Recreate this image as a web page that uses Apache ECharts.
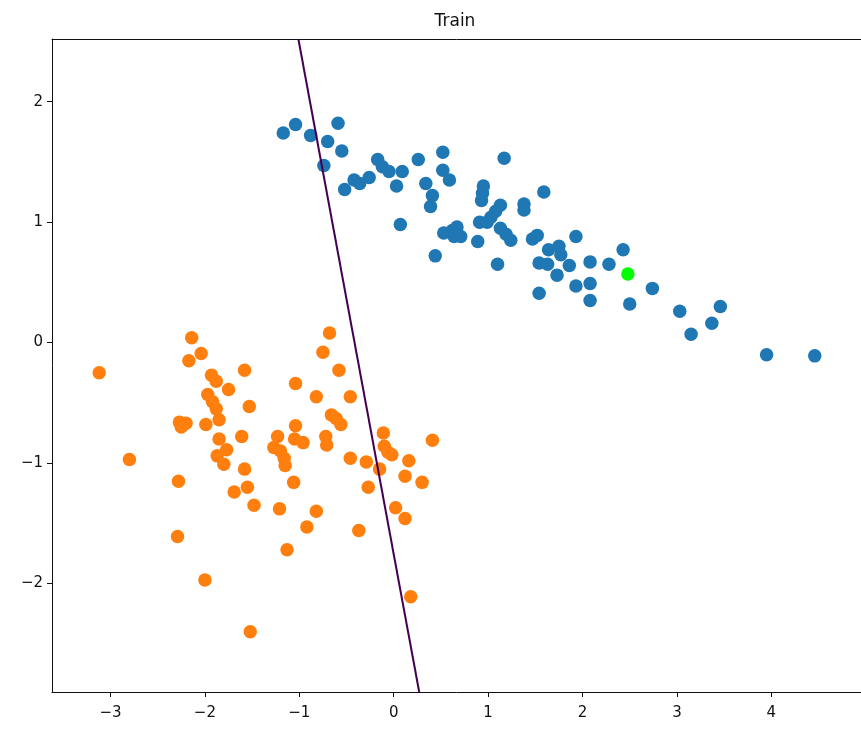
<!DOCTYPE html>
<html>
<head>
<meta charset="utf-8">
<title>Train</title>
<script src="https://cdn.jsdelivr.net/npm/echarts@6/dist/echarts.min.js"></script>
<style>
  html, body { margin: 0; padding: 0; background: #ffffff; }
  #chart { width: 861px; height: 729px; }
</style>
</head>
<body>
<div id="chart"></div>
<script>
// Class 0 samples
const blueX = [-1.17,-1.04,-0.88,-0.70,-0.59,-0.55,-0.74,-0.52,-0.42,-0.36,
  -0.26,-0.17,-0.12,-0.05,0.09,0.03,0.26,0.52,0.52,0.59,
  0.34,0.41,0.39,0.07,0.44,0.53,0.62,0.67,0.71,0.64,
  1.17,0.95,0.94,0.93,1.59,1.38,1.38,1.13,1.08,1.03,
  0.91,0.99,0.89,1.13,1.19,1.24,1.47,1.52,1.93,1.64,
  1.75,1.77,1.54,1.63,1.86,1.73,1.10,2.08,2.28,2.43,
  1.93,2.08,1.54,2.08,2.50,2.74,3.03,3.46,3.37,3.15,3.95,4.46];
const blueY = [1.74,1.81,1.72,1.67,1.82,1.59,1.47,1.27,1.35,1.32,
  1.37,1.52,1.46,1.42,1.42,1.30,1.52,1.58,1.43,1.35,
  1.32,1.22,1.13,0.98,0.72,0.91,0.93,0.96,0.88,0.88,
  1.53,1.30,1.24,1.18,1.25,1.15,1.10,1.14,1.09,1.04,
  1.00,1.00,0.84,0.95,0.90,0.85,0.86,0.89,0.88,0.77,
  0.80,0.73,0.66,0.65,0.64,0.56,0.65,0.67,0.65,0.77,
  0.47,0.49,0.41,0.35,0.32,0.45,0.26,0.30,0.16,0.07,-0.10,-0.11];

// Class 1 samples
const orangeX = [-3.12,-2.14,-2.04,-2.17,-1.93,-1.88,-1.58,-1.75,-1.97,-1.92,
  -1.88,-1.85,-1.53,-2.27,-2.20,-2.25,-1.99,-1.85,-1.77,-1.87,
  -1.80,-1.61,-1.58,-2.80,-2.28,-1.69,-1.55,-1.48,-1.23,-1.27,
  -1.20,-1.16,-1.15,-2.29,-2.00,-1.52,-1.04,-0.68,-0.75,-0.58,
  -0.82,-0.46,-0.66,-0.61,-0.56,-1.04,-1.05,-0.96,-0.72,-0.71,
  -0.11,-0.10,-0.06,-0.02,-0.15,-0.29,-0.46,0.16,0.41,0.12,
  0.30,-1.06,-0.27,-1.21,-0.82,-0.92,-0.37,-1.13,0.02,0.12,0.18];
const orangeY = [-0.25,0.04,-0.09,-0.15,-0.27,-0.32,-0.23,-0.39,-0.43,-0.49,
  -0.55,-0.64,-0.53,-0.66,-0.67,-0.70,-0.68,-0.80,-0.89,-0.94,
  -1.01,-0.78,-1.05,-0.97,-1.15,-1.24,-1.20,-1.35,-0.78,-0.87,
  -0.90,-0.96,-1.02,-1.61,-1.97,-2.40,-0.34,0.08,-0.08,-0.23,
  -0.45,-0.45,-0.60,-0.63,-0.68,-0.69,-0.80,-0.83,-0.78,-0.85,
  -0.75,-0.86,-0.91,-0.93,-1.05,-0.99,-0.96,-0.98,-0.81,-1.11,
  -1.16,-1.16,-1.20,-1.38,-1.40,-1.53,-1.56,-1.72,-1.37,-1.46,-2.11];

// Highlighted sample
const highlightX = [2.48];
const highlightY = [0.57];

// Decision boundary endpoints
const boundaryX = [-1.01, 0.27];
const boundaryY = [2.52, -2.90];

// Axis extents and tick values
const xRange = [-3.62, 4.95];
const yRange = [-2.90, 2.52];
const xTicks = [-3, -2, -1, 0, 1, 2, 3, 4];
const yTicks = [-2, -1, 0, 1, 2];

const zip = (xs, ys) => xs.map((x, i) => [x, ys[i]]);
const fmt = v => (v < 0 ? '\u2212' + Math.abs(v) : String(v));

const chart = echarts.init(document.getElementById('chart'), null, { renderer: 'canvas' });

const labelFont = { fontFamily: 'DejaVu Sans', fontSize: 15, color: '#111' };
const spine = { show: true, onZero: false, lineStyle: { color: '#111', width: 1 } };

chart.setOption({
  animation: false,
  backgroundColor: '#ffffff',
  title: {
    text: 'Train',
    left: 450,
    top: 8,
    textAlign: 'center',
    textStyle: { fontFamily: 'DejaVu Sans', fontSize: 17, fontWeight: 'normal', color: '#111' }
  },
  grid: {
    left: 52, top: 39, right: -2, bottom: 37,
    show: false, containLabel: false
  },
  xAxis: [
    {
      type: 'value',
      min: xRange[0], max: xRange[1],
      splitLine: { show: false },
      axisLine: spine,
      axisTick: { show: true, inside: false, length: 5, customValues: xTicks, lineStyle: { color: '#111' } },
      axisLabel: Object.assign({ margin: 14, customValues: xTicks, formatter: fmt }, labelFont)
    },
    {
      // top spine only
      type: 'value', position: 'top',
      min: xRange[0], max: xRange[1],
      splitLine: { show: false },
      axisLine: spine,
      axisTick: { show: false },
      axisLabel: { show: false }
    }
  ],
  yAxis: {
    type: 'value',
    min: yRange[0], max: yRange[1],
    splitLine: { show: false },
    axisLine: spine,
    axisTick: { show: true, inside: false, length: 5, customValues: yTicks, lineStyle: { color: '#111' } },
    axisLabel: Object.assign({ margin: 9, customValues: yTicks, formatter: fmt }, labelFont)
  },
  series: [
    {
      type: 'scatter', data: zip(blueX, blueY), symbolSize: 13.5,
      itemStyle: { color: '#1f77b4', opacity: 1 }, z: 2
    },
    {
      type: 'scatter', data: zip(orangeX, orangeY), symbolSize: 13.5,
      itemStyle: { color: '#ff7f0e', opacity: 1 }, z: 2
    },
    {
      type: 'scatter', data: zip(highlightX, highlightY), symbolSize: 13.5,
      itemStyle: { color: '#00ff00', opacity: 1 }, z: 3
    },
    {
      type: 'line', data: zip(boundaryX, boundaryY), showSymbol: false, symbol: 'none',
      clip: true, lineStyle: { color: '#440154', width: 2 }, z: 4
    }
  ]
});
</script>
</body>
</html>
